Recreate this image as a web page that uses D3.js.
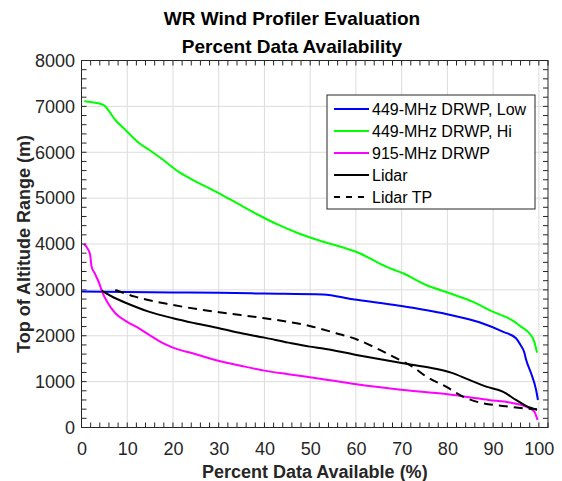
<!DOCTYPE html>
<html>
<head>
<meta charset="utf-8">
<script src="https://cdn.jsdelivr.net/npm/d3@7"></script>
<style>
  html, body { margin: 0; padding: 0; background: #fff; }
  svg { display: block; font-family: "Liberation Sans", Arial, Helvetica, sans-serif; }
</style>
</head>
<body>
<svg id="chart" width="562" height="481"></svg>
<script>
// Percent of time with data available vs. top of altitude range, per instrument
const lowPct = [0, 10, 20, 30, 40, 52.8, 59.3, 69.5, 79.7, 87.0, 92.1, 95.0, 96.0, 96.8, 97.2, 98.3, 99.4, 99.8];
const lowAlt = [2965, 2955, 2945, 2935, 2920, 2900, 2796, 2656, 2475, 2294, 2090, 1946, 1800, 1640, 1480, 1183, 819, 600];

const hiPct = [0.6, 4.7, 7.4, 10, 12.5, 15.4, 17.6, 21.2, 24.1, 30.1, 34.3, 38.7, 43.1, 47.4, 52.5, 55.0, 60.8, 66.6, 70.3, 75.4, 80.5, 85.5, 89.9, 94.3, 96.1, 97.9, 99.0, 99.6];
const hiAlt = [7110, 7036, 6703, 6448, 6208, 6012, 5853, 5576, 5410, 5105, 4872, 4632, 4415, 4234, 4060, 3990, 3798, 3506, 3362, 3107, 2926, 2744, 2526, 2330, 2199, 2055, 1872, 1632];

const uhfPct = [0.5, 1.5, 1.9, 2.2, 2.9, 4.0, 4.5, 5.6, 7.4, 9.9, 12.5, 15.4, 17.6, 20.0, 24.8, 30.1, 35.0, 40.0, 45.2, 52.5, 60.1, 70.3, 79.7, 84.8, 89.0, 93.6, 97.2, 99.0, 99.7];
const uhfAlt = [4000, 3870, 3760, 3510, 3360, 3110, 2960, 2743, 2490, 2308, 2164, 1981, 1850, 1741, 1604, 1451, 1342, 1240, 1161, 1059, 943, 819, 730, 660, 600, 545, 455, 346, 166];

const lidarPct = [4.4, 7.4, 9.9, 14.7, 20.0, 24.8, 30.1, 35.0, 40.0, 45.2, 49.9, 52.5, 60.1, 70.3, 76.8, 80.8, 84.8, 88.5, 92.1, 95.0, 97.2, 99.6];
const lidarAlt = [2985, 2817, 2708, 2526, 2382, 2273, 2164, 2055, 1959, 1850, 1763, 1728, 1582, 1401, 1292, 1196, 1037, 891, 782, 601, 471, 384];

const tpPct = [7.4, 11.7, 20, 30.1, 40, 49.9, 55.7, 60.1, 64.5, 68.8, 72.4, 75.4, 79.7, 83.4, 87.7, 92.1, 96.5, 99.6];
const tpAlt = [2998, 2852, 2671, 2512, 2382, 2214, 2055, 1924, 1728, 1510, 1327, 1109, 891, 673, 529, 471, 421, 399];

const seriesNames = ["449-MHz DRWP, Low", "449-MHz DRWP, Hi", "915-MHz DRWP", "Lidar", "Lidar TP"];
const seriesColors = ["#0000ff", "#00ff00", "#ff00ff", "#000000", "#000000"];
const seriesDash = [null, null, null, null, "9,6"];

const xTicks = [0, 10, 20, 30, 40, 50, 60, 70, 80, 90, 100];
const yTicks = [0, 1000, 2000, 3000, 4000, 5000, 6000, 7000, 8000];

const titleLines = ["WR Wind Profiler Evaluation", "Percent Data Availability"];
const xLabel = "Percent Data Available (%)";
const yLabel = "Top of Altitude Range (m)";

const seriesX = [lowPct, hiPct, uhfPct, lidarPct, tpPct];
const seriesY = [lowAlt, hiAlt, uhfAlt, lidarAlt, tpAlt];

// ---- layout ----
const margin = { left: 81.5, top: 60.5, right: 14, bottom: 53.5 };
const W = 562, H = 481;
const pw = W - margin.left - margin.right;
const ph = H - margin.top - margin.bottom;
const ink = "#262626";

const svg = d3.select("#chart");
const g = svg.append("g").attr("transform", `translate(${margin.left},${margin.top})`);

const x = d3.scaleLinear().domain([0, 102]).range([0, pw]);
const y = d3.scaleLinear().domain([0, 8000]).range([ph, 0]);

// grid
g.append("g").selectAll("line.gx").data(xTicks).join("line")
  .attr("x1", d => x(d)).attr("x2", d => x(d)).attr("y1", 0).attr("y2", ph)
  .attr("stroke", "#dcdcdc").attr("stroke-width", 1);
g.append("g").selectAll("line.gy").data(yTicks).join("line")
  .attr("x1", 0).attr("x2", pw).attr("y1", d => y(d)).attr("y2", d => y(d))
  .attr("stroke", "#dcdcdc").attr("stroke-width", 1);

// curves
const line = d3.line().curve(d3.curveMonotoneX);
seriesX.forEach((xs, i) => {
  const pts = xs.map((v, j) => [x(v), y(seriesY[i][j])]);
  g.append("path")
    .attr("d", line(pts))
    .attr("fill", "none")
    .attr("stroke", seriesColors[i])
    .attr("stroke-width", 2)
    .attr("stroke-dasharray", seriesDash[i])
    .attr("stroke-linejoin", "round");
});

// axes (inward ticks on every side)
const tickLen = 5;
const minorX = d3.range(0, 103, 2);
const minorY = d3.range(0, 8001, 200);
const tickG = g.append("g").attr("stroke", ink).attr("stroke-width", 1);
minorX.forEach(v => {
  tickG.append("line").attr("x1", x(v)).attr("x2", x(v)).attr("y1", ph).attr("y2", ph - tickLen);
  tickG.append("line").attr("x1", x(v)).attr("x2", x(v)).attr("y1", 0).attr("y2", tickLen);
});
minorY.forEach(v => {
  tickG.append("line").attr("x1", 0).attr("x2", tickLen).attr("y1", y(v)).attr("y2", y(v));
  tickG.append("line").attr("x1", pw).attr("x2", pw - tickLen).attr("y1", y(v)).attr("y2", y(v));
});

const xAxis = g.append("g").attr("transform", `translate(0,${ph})`)
  .call(d3.axisBottom(x).tickValues(xTicks).tickSize(0).tickPadding(14.5).tickFormat(d3.format("d")));
const yAxis = g.append("g")
  .call(d3.axisLeft(y).tickValues(yTicks).tickSize(0).tickPadding(6.5).tickFormat(d3.format("d")));
[xAxis, yAxis].forEach(a => {
  a.select(".domain").remove();
  a.selectAll("text").attr("font-size", 18).attr("fill", ink)
    .attr("font-family", "'Liberation Sans', Arial, sans-serif");
});

g.append("rect").attr("x", 0).attr("y", 0).attr("width", pw).attr("height", ph)
  .attr("fill", "none").attr("stroke", ink).attr("stroke-width", 1);

// titles and axis labels
svg.append("g").selectAll("text").data(titleLines).join("text")
  .attr("x", 292).attr("y", (d, i) => 25 + i * 28)
  .attr("text-anchor", "middle").attr("font-size", 19).attr("font-weight", "bold")
  .attr("fill", "#000").text(d => d);

svg.append("text").attr("x", margin.left + pw / 2).attr("y", 477.5)
  .attr("text-anchor", "middle").attr("font-size", 18).attr("font-weight", "bold")
  .attr("fill", ink).text(xLabel);

svg.append("text").attr("transform", `translate(29.5,${margin.top + ph / 2}) rotate(-90)`)
  .attr("text-anchor", "middle").attr("font-size", 18).attr("font-weight", "bold")
  .attr("fill", ink).text(yLabel);

// legend
const lg = svg.append("g").attr("transform", "translate(327,95)");
lg.append("rect").attr("x", 0).attr("y", 0).attr("width", 208).attr("height", 114)
  .attr("fill", "#fff").attr("stroke", ink).attr("stroke-width", 1);
seriesNames.forEach((name, i) => {
  const cy = 14 + i * 22;
  lg.append("line").attr("x1", 7).attr("x2", 42).attr("y1", cy).attr("y2", cy)
    .attr("stroke", seriesColors[i]).attr("stroke-width", 2)
    .attr("stroke-dasharray", seriesDash[i] ? "6,6" : null);
  lg.append("text").attr("x", 45).attr("y", cy).attr("dy", "0.35em")
    .attr("font-size", 16).attr("fill", "#000").text(name);
});
</script>
</body>
</html>
